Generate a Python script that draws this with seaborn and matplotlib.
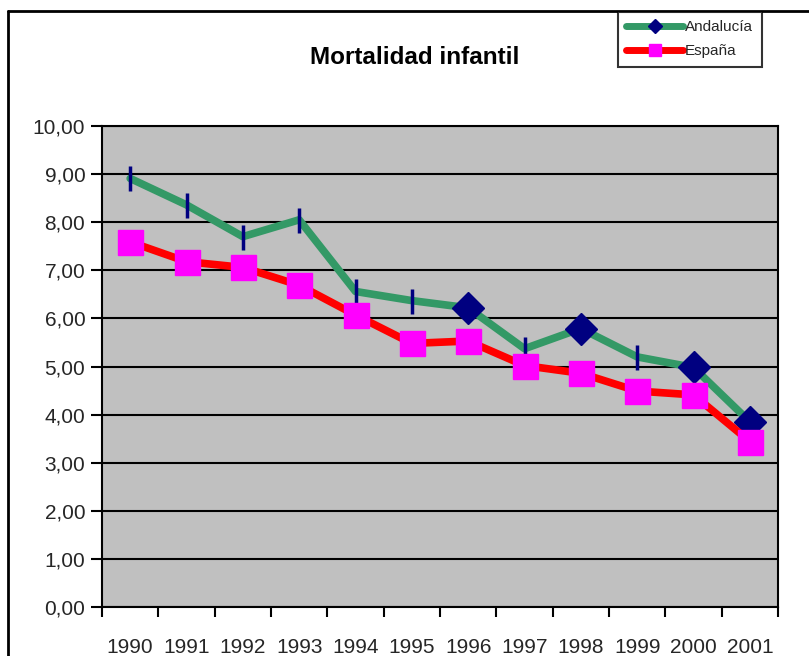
import numpy as np
import pandas as pd
import matplotlib.pyplot as plt
import seaborn as sns
from matplotlib.lines import Line2D
from matplotlib.ticker import FuncFormatter, MultipleLocator

# data
years = [1990, 1991, 1992, 1993, 1994, 1995, 1996, 1997, 1998, 1999, 2000, 2001]
andalucia = [8.91, 8.36, 7.70, 8.05, 6.56, 6.37, 6.22, 5.37, 5.79, 5.20, 4.98, 3.85]
espana = [7.59, 7.18, 7.06, 6.69, 6.07, 5.48, 5.53, 5.02, 4.86, 4.49, 4.41, 3.44]
diamond_years = [1996, 1998, 2000, 2001]  # the other Andalucía markers show up as thin bars

df = pd.DataFrame({"pos": np.arange(len(years)), "year": years,
                   "Andalucía": andalucia, "España": espana})

sns.set_style("white")
plt.rcParams["font.family"] = ["Liberation Sans", "DejaVu Sans"]

fig = plt.figure(figsize=(8.09, 6.56), dpi=100)
ax = fig.add_axes([0.1261, 0.0747, 0.8356, 0.7332])
ax.set_facecolor("#C0C0C0")

# Andalucía
sns.lineplot(data=df, x="pos", y="Andalucía", color="#339966", linewidth=5.5, ax=ax, zorder=3)
dia = df[df["year"].isin(diamond_years)]
bar = df[~df["year"].isin(diamond_years)]
ax.plot(dia["pos"], dia["Andalucía"], linestyle="none", marker="D", markersize=16,
        color="#000080", zorder=4)
ax.plot(bar["pos"], bar["Andalucía"], linestyle="none", marker="|", markersize=18,
        markeredgewidth=2.5, color="#000080", zorder=4)

# España
sns.lineplot(data=df, x="pos", y="España", color="#FF0000", linewidth=5.5, ax=ax, zorder=5)
ax.plot(df["pos"], df["España"], linestyle="none", marker="s", markersize=18,
        color="#FF00FF", zorder=6)

ax.set_xlim(-0.5, len(years) - 0.5)
ax.set_ylim(0, 10)
ax.yaxis.set_major_locator(MultipleLocator(1))
ax.yaxis.set_major_formatter(FuncFormatter(lambda v, p: f"{v:.2f}".replace(".", ",")))
ax.grid(axis="y", color="black", linewidth=1.5)
ax.set_axisbelow(True)

ax.set_xticks(df["pos"])
ax.set_xticklabels(years)
ax.set_xticks(np.arange(-0.5, len(years)), minor=True)
ax.tick_params(axis="x", which="major", length=0, pad=22, labelsize=15)
ax.tick_params(axis="x", which="minor", length=7, width=1.5, color="black", direction="out")
ax.tick_params(axis="y", length=8, width=1.5, color="black", direction="out", labelsize=15, pad=4)
ax.tick_params(bottom=True, left=True, which="both")
ax.set_xlabel("")
ax.set_ylabel("")
for s in ax.spines.values():
    s.set_color("black")
    s.set_linewidth(1.5)

fig.text(0.513, 0.913, "Mortalidad infantil", ha="center", va="center",
         fontsize=17.5, fontweight="bold", color="black")

# outer chart border (only top and left visible)
fig.add_artist(Line2D([8 / 809, 8 / 809], [0, 1 - 11 / 656], color="black", lw=2,
                      transform=fig.transFigure))
fig.add_artist(Line2D([8 / 809, 1], [1 - 11 / 656, 1 - 11 / 656], color="black", lw=2,
                      transform=fig.transFigure))

handles = [
    Line2D([], [], color="#339966", lw=5, marker="D", markersize=7,
           markerfacecolor="#000080", markeredgecolor="#000080"),
    Line2D([], [], color="#FF0000", lw=5, marker="s", markersize=9,
           markerfacecolor="#FF00FF", markeredgecolor="#FF00FF"),
]
leg = fig.legend(handles, ["Andalucía", "España"], loc="upper left",
                 bbox_to_anchor=(618 / 809, 1 - 12 / 656), frameon=True, fancybox=False,
                 fontsize=11, handlelength=3.7, handletextpad=0.15, borderpad=0.55,
                 labelspacing=0.65, borderaxespad=0)
leg.get_frame().set_edgecolor("black")
leg.get_frame().set_linewidth(1.5)

fig.savefig("out.png", dpi=100)
